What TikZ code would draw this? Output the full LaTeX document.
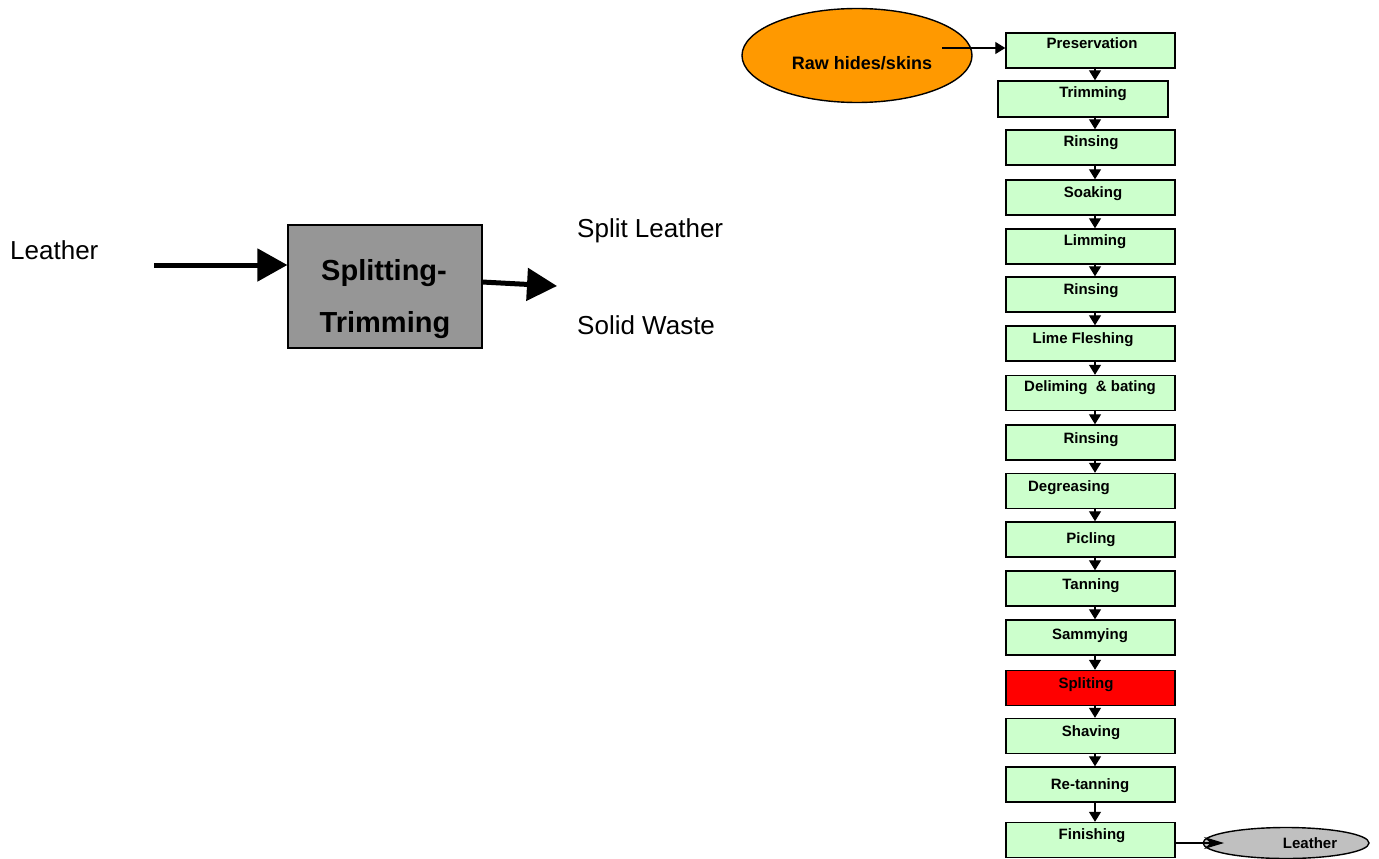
\documentclass[tikz,border=0pt]{standalone}
\usepackage{fontspec}
\setmainfont{Liberation Sans}
\usetikzlibrary{arrows.meta,shapes.geometric}
\definecolor{stepgreen}{HTML}{CCFFCC}
\definecolor{steporange}{HTML}{FF9900}
\definecolor{stepred}{HTML}{FF0000}
\definecolor{outgray}{HTML}{C0C0C0}
\definecolor{boxgray}{HTML}{969696}
\tikzset{
  stepbox/.style={draw=black, line width=1.4pt, fill=stepgreen, minimum width=169, minimum height=35, inner sep=0pt},
  steptext/.style={anchor=base, inner sep=0pt, font=\fontsize{15}{18}\selectfont\bfseries},
  flow/.style={draw=black, line width=1.2pt, -{Triangle[length=10pt,width=12pt]}},
  bigarrow/.style={draw=black, line width=5pt, -{Triangle[length=30pt,width=32pt]}},
  plain/.style={anchor=base west, inner sep=0pt, font=\fontsize{26}{30}\selectfont},
  bigbold/.style={anchor=base, inner sep=0pt, font=\fontsize{29}{32}\selectfont\bfseries},
}
\begin{document}
\begin{tikzpicture}[x=1pt, y=-1pt]
\useasboundingbox (0,0) rectangle (1379,859);

% ---- single operation: splitting and trimming ----
\node[draw=black, line width=1.2pt, fill=boxgray, minimum width=194, minimum height=123, inner sep=0pt] (gbox) at (385,286.5) {};
\node[bigbold] (g1) at (384,280) {Splitting-};
\node[bigbold] (g2) at (385,332) {Trimming};
\node[plain] (lin) at (10,259) {Leather};
\node[plain] (lsplit) at (577,237) {Split Leather};
\node[plain] (lwaste) at (577,334) {Solid Waste};
\coordinate (leftin) at (154,265);
\coordinate (outtail) at (482,282);
\coordinate (outtip) at (557,286);
\draw[bigarrow] (leftin) -- (leftin -| gbox.west);
\draw[bigarrow] (outtail) -- (outtip);

% ---- process chain ----
\node[draw=black, line width=1.4pt, fill=steporange, ellipse, minimum width=230, minimum height=94, inner sep=0pt] (raw) at (857,55.5) {};
\node[steptext, font=\fontsize{18}{20}\selectfont\bfseries] (rawt) at (862,69.5) {Raw hides/skins};

\node[stepbox] (b1)  at (1090.5,50.5)  {};
\node[stepbox, minimum width=170, minimum height=36] (b2)  at (1083,99) {};
\node[stepbox] (b3)  at (1090.5,147.5) {};
\node[stepbox] (b4)  at (1090.5,197.5) {};
\node[stepbox] (b5)  at (1090.5,246.5) {};
\node[stepbox] (b6)  at (1090.5,294.5) {};
\node[stepbox] (b7)  at (1090.5,343.5) {};
\node[stepbox] (b8)  at (1090.5,393)   {};
\node[stepbox] (b9)  at (1090.5,442.5) {};
\node[stepbox] (b10) at (1090.5,491)   {};
\node[stepbox] (b11) at (1090.5,539.5) {};
\node[stepbox] (b12) at (1090.5,588.5) {};
\node[stepbox] (b13) at (1090.5,637.5) {};
\node[stepbox, fill=stepred] (b14) at (1090.5,688) {};
\node[stepbox] (b15) at (1090.5,736)   {};
\node[stepbox] (b16) at (1090.5,784.5) {};
\node[stepbox] (b17) at (1090.5,840)   {};

\node[steptext] (t1)  at (1092,48.5)  {Preservation};
\node[steptext] (t2)  at (1093,97.5)  {Trimming};
\node[steptext] (t3)  at (1091,146.5) {Rinsing};
\node[steptext] (t4)  at (1093,197.5) {Soaking};
\node[steptext] (t5)  at (1095,245.5) {Limming};
\node[steptext] (t6)  at (1091,294.5) {Rinsing};
\node[steptext] (t7)  at (1083,343.5) {Lime Fleshing};
\node[steptext] (t8)  at (1090,391.5) {Deliming \ \& bating};
\node[steptext] (t9)  at (1091,443.5) {Rinsing};
\node[steptext] (t10) at (1069,491.5) {Degreasing};
\node[steptext] (t11) at (1091,543.5) {Picling};
\node[steptext] (t12) at (1091,589.5) {Tanning};
\node[steptext] (t13) at (1090,639.5) {Sammying};
\node[steptext] (t14) at (1086,688.5) {Spliting};
\node[steptext] (t15) at (1091,736.5) {Shaving};
\node[steptext] (t16) at (1090,789.5) {Re-tanning};
\node[steptext] (t17) at (1092,839.5) {Finishing};

\node[draw=black, line width=1.4pt, fill=outgray, ellipse, minimum width=166, minimum height=31, inner sep=0pt] (leather) at (1286,843) {};
\node[steptext] (leathert) at (1310,848.5) {Leather};

% connectors
\coordinate (arrx) at (1095,0);
\foreach \a/\b in {b1/b2,b2/b3,b3/b4,b4/b5,b5/b6,b6/b7,b7/b8,b8/b9,b9/b10,b10/b11,b11/b12,b12/b13,b13/b14,b14/b15,b15/b16,b16/b17}
  \draw[flow] (\a.south -| arrx) -- (\b.north -| arrx);
\coordinate (rawtail) at (942,48);
\draw[flow] (rawtail) -- (rawtail -| b1.west);
\coordinate (leathertip) at (1224,843);
\draw[draw=black, line width=1.2pt, -{Stealth[length=20pt,width=12pt]}] (b17.east |- leathertip) -- (leathertip);
\end{tikzpicture}
\end{document}
